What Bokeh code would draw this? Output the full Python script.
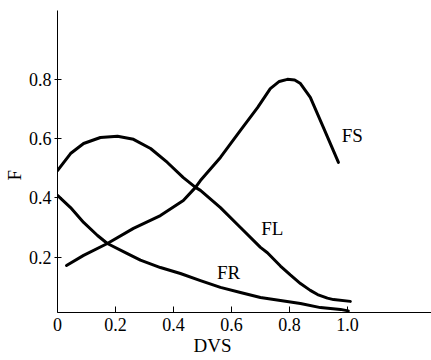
from bokeh.plotting import figure
from bokeh.models import Range1d, FixedTicker, Label, Title
from bokeh.embed import file_html
from bokeh.resources import INLINE

# Data
fl_x = [0.0, 0.045, 0.09, 0.148, 0.207, 0.262, 0.321, 0.379, 0.434, 0.476, 0.493, 0.562, 0.631, 0.70, 0.724, 0.769, 0.803, 0.838, 0.872, 0.897, 0.931, 0.952, 1.01]
fl_y = [0.492, 0.549, 0.583, 0.603, 0.607, 0.597, 0.566, 0.519, 0.468, 0.435, 0.425, 0.367, 0.300, 0.233, 0.215, 0.170, 0.140, 0.111, 0.088, 0.074, 0.062, 0.057, 0.051]

fs_x = [0.031, 0.09, 0.172, 0.262, 0.355, 0.434, 0.476, 0.493, 0.562, 0.631, 0.690, 0.734, 0.765, 0.793, 0.818, 0.838, 0.872, 0.917, 0.969]
fs_y = [0.172, 0.206, 0.246, 0.297, 0.340, 0.391, 0.435, 0.458, 0.536, 0.627, 0.704, 0.768, 0.792, 0.799, 0.797, 0.785, 0.738, 0.637, 0.519]

fr_x = [0.0, 0.045, 0.09, 0.138, 0.172, 0.241, 0.286, 0.355, 0.424, 0.493, 0.562, 0.631, 0.700, 0.769, 0.838, 0.907, 0.976, 1.003]
fr_y = [0.408, 0.367, 0.317, 0.273, 0.246, 0.212, 0.190, 0.165, 0.145, 0.121, 0.098, 0.081, 0.064, 0.054, 0.044, 0.030, 0.024, 0.019]

curve_labels = ["FS", "FL", "FR"]
label_x = [1.017, 0.741, 0.59]
label_y = [0.61, 0.297, 0.148]

x_ticks = [0, 0.2, 0.4, 0.6, 0.8, 1.0]
x_tick_labels = ["0", "0.2", "0.4", "0.6", "0.8", "1.0"]
y_ticks = [0.2, 0.4, 0.6, 0.8]
y_tick_labels = ["0.2", "0.4", "0.6", "0.8"]

x_title = "DVS"
y_title = "F"

FONT = "Liberation Serif"

p = figure(width=431, height=360, output_backend="svg", toolbar_location=None,
           x_range=Range1d(0, 1.29), y_range=Range1d(0.0135, 1.031),
           min_border_left=57, min_border_right=0, min_border_top=10, min_border_bottom=48)
p.outline_line_color = None
p.xgrid.visible = False
p.ygrid.visible = False
p.background_fill_color = "white"
p.border_fill_color = "white"

for xs, ys in [(fl_x, fl_y), (fs_x, fs_y), (fr_x, fr_y)]:
    p.line(xs, ys, line_color="black", line_width=3, line_join="round", line_cap="round")

for t, lx, ly in zip(curve_labels, label_x, label_y):
    p.add_layout(Label(x=lx, y=ly, text=t, text_align="center", text_baseline="middle",
                       text_font=FONT, text_font_size="19px", text_color="black"))

xa = p.xaxis[0]
xa.ticker = FixedTicker(ticks=x_ticks)
xa.major_label_overrides = {t: l for t, l in zip(x_ticks, x_tick_labels)}
xa.major_tick_in = 6
xa.major_tick_out = 0
xa.minor_tick_in = 0
xa.minor_tick_out = 0
xa.major_label_standoff = 5
xa.major_label_text_font = FONT
xa.major_label_text_font_size = "18px"
xa.major_label_text_color = "black"
xa.axis_line_color = "black"
xa.major_tick_line_color = "black"

ya = p.yaxis[0]
ya.ticker = FixedTicker(ticks=y_ticks)
ya.major_label_overrides = {t: l for t, l in zip(y_ticks, y_tick_labels)}
ya.major_tick_in = 4
ya.major_tick_out = 3
ya.minor_tick_in = 0
ya.minor_tick_out = 0
ya.major_label_standoff = 3
ya.major_label_text_font = FONT
ya.major_label_text_font_size = "18px"
ya.major_label_text_color = "black"
ya.axis_line_color = "black"
ya.major_tick_line_color = "black"

p.add_layout(Title(text=x_title, align="left", offset=136, standoff=0, vertical_align="middle",
                   text_font=FONT, text_font_size="19px", text_font_style="normal",
                   text_color="black"), "below")
p.add_layout(Title(text=y_title, align="left", offset=132, standoff=0, vertical_align="middle",
                   text_font=FONT, text_font_size="19px", text_font_style="normal",
                   text_color="black"), "left")

open("out.html", "w").write(file_html(p, INLINE))
